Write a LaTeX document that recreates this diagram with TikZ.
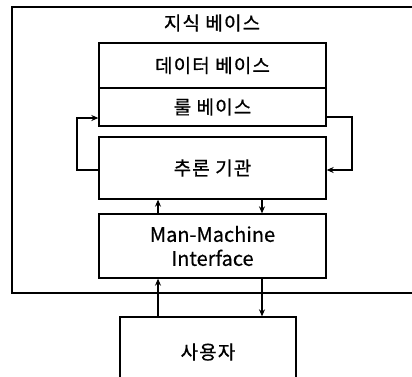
\documentclass[tikz,border=0pt]{standalone}
\usepackage{fontspec}
\setmainfont{Noto Sans CJK KR}
\newfontfamily\krfont{Noto Sans CJK KR}[FakeBold=0.8, LetterSpace=6]
\newfontfamily\enfont{Noto Sans CJK KR}[FakeBold=0.5]
\usetikzlibrary{arrows.meta}
\tikzset{
  box/.style={draw=black, line width=1.3pt, rectangle, inner sep=0pt, align=center},
  kr/.style={font=\krfont\fontsize{19}{22}\selectfont},
  en/.style={font=\enfont\fontsize{20}{24}\selectfont},
  arr/.style={line width=1.3pt, -{Stealth[length=7pt,width=6pt]}},
}
\begin{document}
\begin{tikzpicture}[x=1pt,y=-1pt]
\useasboundingbox (0,0) rectangle (412,376);
\fill[white] (0,0) rectangle (412,376);
% outer knowledge-base box
\node[box, line width=1.1pt, minimum width=404pt, minimum height=286pt] (kb) at (214,150) {};
\node[kr] (title) at (212,23) {지식 베이스};
% inner boxes
\node[box, kr, minimum width=227pt, minimum height=45pt] (db) at (212.5,65.5) {데이터 베이스};
\node[box, kr, minimum width=227pt, minimum height=38pt] (rb) at (212.5,107) {룰 베이스};
\node[box, kr, minimum width=227pt, minimum height=62pt] (inf) at (212.5,168) {추론 기관};
\node[box, en, minimum width=227pt, minimum height=64pt] (mmi) at (212.5,246) {Man-Machine\\Interface};
\node[box, kr, minimum width=176pt, minimum height=70pt] (user) at (208,352) {사용자};
% loop coordinates
\coordinate (L1) at (77,170);
\coordinate (L2) at (77,118);
\coordinate (R1) at (352,117);
\coordinate (R2) at (352,170);
\coordinate (ua) at (158,0);
\coordinate (da) at (262,0);
% loops
\draw[arr] (inf.west |- L1) -- (L1) -- (L2) -- (rb.west |- L2);
\draw[arr] (rb.east |- R1) -- (R1) -- (R2) -- (inf.east |- R2);
% vertical arrows
\draw[arr] (mmi.north -| ua) -- (inf.south -| ua);
\draw[arr] (inf.south -| da) -- (mmi.north -| da);
\draw[arr] (user.north -| ua) -- (mmi.south -| ua);
\draw[arr] (mmi.south -| da) -- (user.north -| da);
\end{tikzpicture}
\end{document}
